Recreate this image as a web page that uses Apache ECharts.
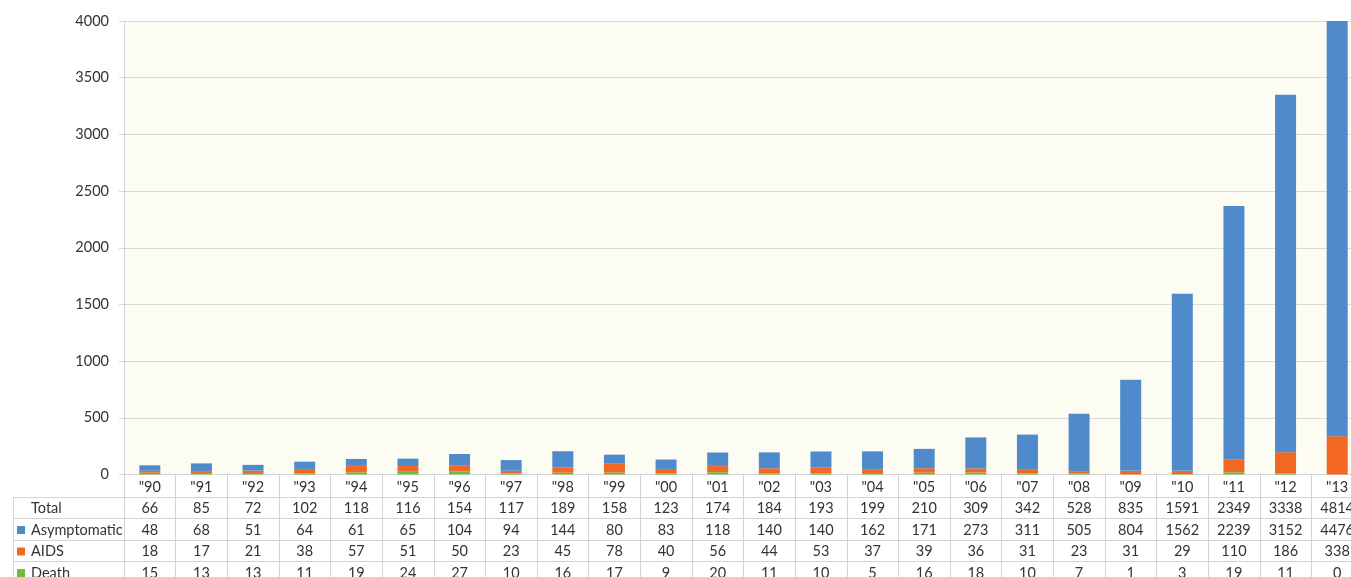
<!DOCTYPE html>
<html>
<head>
<meta charset="utf-8">
<script src="https://cdn.jsdelivr.net/npm/echarts@6/dist/echarts.min.js"></script>
<style>
html,body{margin:0;padding:0;background:#fff;}
#c{width:1351px;height:577px;}
</style>
</head>
<body>
<div id="c"></div>
<script>
var years = ['"90','"91','"92','"93','"94','"95','"96','"97','"98','"99','"00','"01','"02','"03','"04','"05','"06','"07','"08','"09','"10','"11','"12','"13'];
var total = [66,85,72,102,118,116,154,117,189,158,123,174,184,193,199,210,309,342,528,835,1591,2349,3338,4814];
var asymptomatic = [48,68,51,64,61,65,104,94,144,80,83,118,140,140,162,171,273,311,505,804,1562,2239,3152,4476];
var aids = [18,17,21,38,57,51,50,23,45,78,40,56,44,53,37,39,36,31,23,31,29,110,186,338];
var death = [15,13,13,11,19,24,27,10,16,17,9,20,11,10,5,16,18,10,7,1,3,19,11,0];
var yTicks = [0,500,1000,1500,2000,2500,3000,3500,4000];
var rowNames = ['Total','Asymptomatic','AIDS','Death'];

var C_ASYM = '#4f8bcb', C_AIDS = '#f26724', C_DEATH = '#6dbb45';
var FONT = 'Lato';
var FS = 14.5;
var TXT = '#333333';
var LINE = '#d4d4d4';

var chart = echarts.init(document.getElementById('c'), null, {renderer:'canvas'});

var gridTop = 21, gridH = 453.5;
var rowOffsets = [22.5, 44, 65.5, 87];
var rowH = 21.5;
var rowColors = [null, C_ASYM, C_AIDS, C_DEATH];
var rowValues = [total, asymptomatic, aids, death];

var xAxes = [{
  type:'category', gridIndex:0, data: years, position:'bottom',
  boundaryGap:true,
  axisLine:{show:true, onZero:false, lineStyle:{color:LINE, width:1}},
  axisTick:{show:true, interval:0, length:22.5, lineStyle:{color:LINE}},
  axisLabel:{interval:0, margin:5, color:TXT, fontFamily:FONT, fontSize:FS},
  splitLine:{show:false}
}];
rowValues.forEach(function(vals, i){
  xAxes.push({
    type:'category', gridIndex:0, position:'bottom', offset:rowOffsets[i],
    data: vals.map(String), boundaryGap:true,
    axisLine:{show:true, onZero:false, lineStyle:{color:LINE, width:1}},
    axisTick:{show:true, interval:0, length:rowH, lineStyle:{color:LINE}},
    axisLabel:{interval:0, margin:4, color:TXT, fontFamily:FONT, fontSize:FS},
    splitLine:{show:false}
  });
});
// header column axes
rowNames.forEach(function(name, i){
  var col = rowColors[i];
  xAxes.push({
    type:'category', gridIndex:1, position:'bottom', offset:rowOffsets[i],
    data:[name], boundaryGap:true,
    axisLine:{show:true, onZero:false, lineStyle:{color:LINE, width:1}},
    axisTick:{show:true, interval:0, length:rowH, lineStyle:{color:LINE}},
    axisLabel:{
      interval:0, margin:4, color:TXT, fontFamily:FONT, fontSize:FS,
      formatter:function(v){ return '{sp|}{ic|}{t|' + v + '}'; },
      rich:{
        sp:{width:3.5, height:8, align:'left'},
        ic:{width:8, height:8, backgroundColor: col || 'transparent', align:'left', verticalAlign:'middle'},
        t:{width:93, padding:[0,0,0,6], align:'left', color:TXT, fontFamily:FONT, fontSize:FS}
      }
    },
    splitLine:{show:false}
  });
});

var option = {
  animation:false,
  backgroundColor:'#ffffff',
  textStyle:{fontFamily:FONT},
  grid:[
    {left:124, top:gridTop, width:1239, height:gridH, show:true, backgroundColor:'#fdfcf2', borderWidth:0, containLabel:false, outerBoundsMode:'none'},
    {left:13.5, top:gridTop, width:110.5, height:gridH, show:false, containLabel:false, outerBoundsMode:'none'}
  ],
  xAxis: xAxes,
  yAxis:[
    {type:'value', gridIndex:0, min:yTicks[0], max:yTicks[yTicks.length-1], interval:yTicks[1]-yTicks[0],
     axisLine:{show:true, lineStyle:{color:LINE}},
     axisTick:{show:true, length:5, lineStyle:{color:LINE}},
     axisLabel:{color:TXT, fontFamily:FONT, fontSize:FS, margin:15, formatter:function(v){return String(v);}},
     splitLine:{show:true, lineStyle:{color:'#d9d9d9', width:1}}
    },
    {type:'value', gridIndex:1, show:false, axisLine:{show:false}, axisTick:{show:false}, axisLabel:{show:false}, splitLine:{show:false}}
  ],
  series:[
    {name:'Death', type:'bar', stack:'s', xAxisIndex:0, yAxisIndex:0, data:death, barWidth:21, itemStyle:{color:C_DEATH}},
    {name:'AIDS', type:'bar', stack:'s', xAxisIndex:0, yAxisIndex:0, data:aids, barWidth:21, itemStyle:{color:C_AIDS}},
    {name:'Asymptomatic', type:'bar', stack:'s', xAxisIndex:0, yAxisIndex:0, data:asymptomatic, barWidth:21, itemStyle:{color:C_ASYM}}
  ]
};
chart.setOption(option);
</script>
</body>
</html>
